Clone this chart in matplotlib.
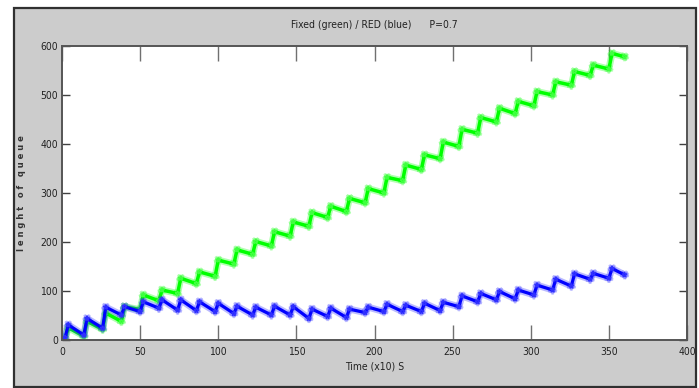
import matplotlib
matplotlib.use('Agg')
import matplotlib.pyplot as plt
import matplotlib.patheffects as pe
from matplotlib.patches import Rectangle
from matplotlib import font_manager

# queue length samples: trough just before each jump, then the peak after it
t_trough = [2, 14, 26, 38, 50, 62, 74, 86, 98, 110, 122, 134, 146, 158, 170,
            182, 194, 206, 218, 230, 242, 254, 266, 278, 290, 302, 314, 326, 338, 350]
t_peak = [4, 16, 28, 40, 52, 64, 76, 88, 100, 112, 124, 136, 148, 160, 172,
          184, 196, 208, 220, 232, 244, 256, 268, 280, 292, 304, 316, 328, 340, 352]
t_end = 360

fixed_trough = [2, 8, 22, 38, 62, 80, 95, 115, 130, 155, 175, 192, 212, 232, 250,
                262, 280, 300, 325, 348, 370, 395, 422, 445, 462, 478, 500, 520, 540, 553]
fixed_peak = [25, 38, 55, 68, 92, 102, 126, 139, 163, 184, 201, 221, 241, 260, 273,
              289, 309, 332, 357, 378, 404, 430, 454, 473, 487, 507, 527, 548, 561, 585]
fixed_end = 578

red_trough = [5, 10, 24, 51, 58, 65, 61, 60, 58, 54, 51, 51, 51, 44, 48,
              46, 56, 58, 58, 58, 60, 68, 78, 82, 84, 92, 102, 110, 124, 126]
red_peak = [31, 44, 67, 68, 78, 82, 82, 78, 75, 69, 67, 69, 68, 63, 65,
            63, 67, 73, 71, 75, 77, 90, 95, 99, 102, 112, 124, 135, 136, 146]
red_end = 133


def build_series(trough, peak, end):
    xs, ys = [0], [0]
    for i in range(len(t_peak)):
        xs += [t_trough[i], t_peak[i]]
        ys += [trough[i], peak[i]]
    xs.append(t_end)
    ys.append(end)
    return xs, ys


fig = plt.figure(figsize=(6.99, 3.88), dpi=100)
fig.patch.set_facecolor('white')
# grey figure window with dark frame
frame = Rectangle((14 / 699, 0.002), 682 / 699, 1 - 8 / 388 - 0.002,
                  transform=fig.transFigure, facecolor='#cccccc',
                  edgecolor='#303030', linewidth=1.6, zorder=-10)
fig.add_artist(frame)

ax = fig.add_axes([62 / 699, 48 / 388, 625 / 699, 294 / 388])
ax.set_facecolor('white')

# narrow look for the labels
narrow = font_manager.FontProperties(family='DejaVu Sans', stretch='condensed', size=7.5)

glow = lambda c: [pe.Stroke(linewidth=5, foreground=c, alpha=0.3), pe.Normal()]

x, y = build_series(fixed_trough, fixed_peak, fixed_end)
ax.plot(x, y, color='#00ff00', lw=2.5, marker='*', ms=3.5, mec='#40ff40',
        path_effects=glow('#00ff00'))
x, y = build_series(red_trough, red_peak, red_end)
ax.plot(x, y, color='#0000ff', lw=2.3, marker='*', ms=3.5, mec='#3030ff',
        path_effects=glow('#2020ff'))

ax.set_xlim(0, 400)
ax.set_ylim(0, 600)
ax.set_xticks(range(0, 401, 50))
ax.set_yticks(range(0, 601, 100))

ax.tick_params(axis='x', direction='in', length=11, width=1, color='#707070',
               top=True, pad=5)
ax.tick_params(axis='y', direction='in', length=6, width=1, color='#404040',
               right=True, pad=3)
for lab in ax.get_xticklabels() + ax.get_yticklabels():
    lab.set_fontproperties(narrow)
    lab.set_color('#222222')

for s in ax.spines.values():
    s.set_color('#555555')
    s.set_linewidth(1.4)

ax.set_title('Fixed (green) / RED (blue)      P=0.7', fontproperties=narrow,
             color='#222222', pad=13)
ax.set_xlabel('Time (x10) S', fontproperties=narrow, color='#222222', labelpad=3)
ax.set_ylabel('l e n g h t   o f   q u e u e', fontsize=6, fontweight='bold',
              color='#333333', labelpad=10)

fig.savefig('out.png', dpi=100)
